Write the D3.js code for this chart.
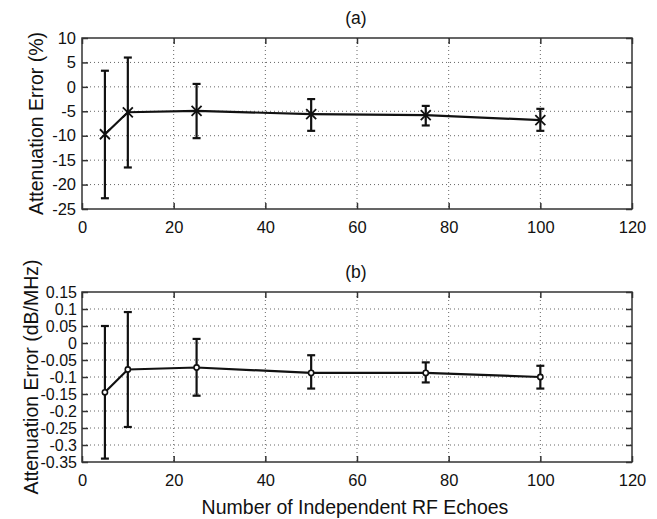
<!DOCTYPE html>
<html>
<head>
<meta charset="utf-8">
<script src="https://cdn.jsdelivr.net/npm/d3@7"></script>
<style>
  body { margin: 0; background: #fff; }
  text { font-family: "Liberation Sans", Arial, sans-serif; fill: #111; }
</style>
</head>
<body>
<svg id="chart" width="657" height="519"></svg>
<script>
// number of independent RF echoes
const echoes = [5, 10, 25, 50, 75, 100];

// panel (a): attenuation error in %
const errPct = [-9.7, -5.2, -4.9, -5.6, -5.8, -6.8];
const errPctLow = [-22.8, -16.5, -10.5, -9.0, -7.9, -9.0];
const errPctHigh = [3.3, 6.0, 0.6, -2.5, -3.9, -4.5];
const pctTicks = [10, 5, 0, -5, -10, -15, -20, -25];

// panel (b): attenuation error in dB/MHz
const errDb = [-0.145, -0.078, -0.072, -0.088, -0.088, -0.100];
const errDbLow = [-0.340, -0.247, -0.155, -0.134, -0.116, -0.134];
const errDbHigh = [0.050, 0.091, 0.012, -0.036, -0.057, -0.067];
const dbTicks = [0.15, 0.1, 0.05, 0, -0.05, -0.1, -0.15, -0.2, -0.25, -0.3, -0.35];

const xTicks = [0, 20, 40, 60, 80, 100, 120];

var svg = d3.select('#chart');
var left = 82, right = 632;
var font = '"Liberation Sans", Arial, sans-serif';

var x = d3.scaleLinear().domain([0, 120]).range([left, right]);

function drawPanel(opt) {
  var y = d3.scaleLinear().domain(opt.domain).range([opt.bottom, opt.top]);
  var g = svg.append('g');

  // dotted grid
  g.selectAll('.vgrid').data(xTicks.slice(1, -1)).enter().append('line')
    .attr('x1', d => x(d)).attr('x2', d => x(d))
    .attr('y1', opt.top).attr('y2', opt.bottom)
    .attr('stroke', '#666').attr('stroke-width', 1).attr('stroke-dasharray', '1,3');
  g.selectAll('.hgrid').data(opt.ticks.slice(1, -1)).enter().append('line')
    .attr('y1', d => y(d)).attr('y2', d => y(d))
    .attr('x1', left).attr('x2', right)
    .attr('stroke', '#666').attr('stroke-width', 1).attr('stroke-dasharray', '1,3');

  // axes with inward ticks
  var yAxis = d3.axisLeft(y).tickValues(opt.ticks).tickSize(-6).tickPadding(opt.yPad)
    .tickFormat(d => String(+d.toFixed(2)));
  var yAx = g.append('g').attr('transform', 'translate(' + left + ',0)').call(yAxis);
  var yAxR = g.append('g').attr('transform', 'translate(' + right + ',0)')
    .call(d3.axisRight(y).tickValues(opt.ticks).tickSize(-6).tickFormat(''));
  var xAx = g.append('g').attr('transform', 'translate(0,' + opt.bottom + ')')
    .call(d3.axisBottom(x).tickValues(xTicks).tickSize(-6).tickPadding(12));
  var xAxT = g.append('g').attr('transform', 'translate(0,' + opt.top + ')')
    .call(d3.axisTop(x).tickValues(xTicks).tickSize(-6).tickFormat(''));
  [yAx, yAxR, xAx, xAxT].forEach(function(a) {
    a.select('.domain').remove();
    a.selectAll('line').attr('stroke', '#333').attr('stroke-width', 1.5);
    a.selectAll('text').attr('font-size', 16.5).attr('fill', '#111')
      .attr('font-family', font);
  });
  yAx.selectAll('text').attr('font-size', opt.yTickSize);
  g.append('rect').attr('x', left).attr('y', opt.top)
    .attr('width', right - left).attr('height', opt.bottom - opt.top)
    .attr('fill', 'none').attr('stroke', '#333').attr('stroke-width', 1.5);

  // error bars
  var eb = g.selectAll('.eb').data(echoes).enter().append('g');
  eb.append('line')
    .attr('x1', d => x(d)).attr('x2', d => x(d))
    .attr('y1', (d, i) => y(opt.low[i])).attr('y2', (d, i) => y(opt.high[i]))
    .attr('stroke', '#111').attr('stroke-width', 2.2);
  eb.append('line')
    .attr('x1', d => x(d) - 4).attr('x2', d => x(d) + 4)
    .attr('y1', (d, i) => y(opt.low[i])).attr('y2', (d, i) => y(opt.low[i]))
    .attr('stroke', '#111').attr('stroke-width', 2.2);
  eb.append('line')
    .attr('x1', d => x(d) - 4).attr('x2', d => x(d) + 4)
    .attr('y1', (d, i) => y(opt.high[i])).attr('y2', (d, i) => y(opt.high[i]))
    .attr('stroke', '#111').attr('stroke-width', 2.2);

  // mean line
  var line = d3.line().x(d => x(d[0])).y(d => y(d[1]));
  g.append('path').datum(echoes.map((d, i) => [d, opt.mean[i]]))
    .attr('d', line).attr('fill', 'none').attr('stroke', '#111').attr('stroke-width', 2.2);

  // markers
  var mk = g.selectAll('.mk').data(echoes).enter().append('g')
    .attr('transform', (d, i) => 'translate(' + x(d) + ',' + y(opt.mean[i]) + ')');
  if (opt.marker === 'x') {
    mk.append('path').attr('d', 'M-5,-5L5,5M-5,5L5,-5')
      .attr('stroke', '#111').attr('stroke-width', 1.8);
  } else {
    mk.append('circle').attr('r', 2.6).attr('fill', '#fff')
      .attr('stroke', '#111').attr('stroke-width', 1.6);
  }

  // panel title
  svg.append('text').attr('x', 356).attr('y', opt.top - 14)
    .attr('text-anchor', 'middle').attr('font-size', 17.5).text(opt.title);

  // y label
  svg.append('text')
    .attr('transform', 'translate(' + opt.labelX + ',' + ((opt.top + opt.bottom) / 2) + ') rotate(-90)')
    .attr('text-anchor', 'middle').attr('font-size', 19.5).text(opt.ylabel);
}

drawPanel({
  top: 38, bottom: 209, domain: [-25, 10], ticks: pctTicks,
  mean: errPct, low: errPctLow, high: errPctHigh, yTickSize: 16.5, yPad: 6, labelX: 43,
  marker: 'x', title: '(a)', ylabel: 'Attenuation Error (%)'
});

drawPanel({
  top: 292, bottom: 462, domain: [-0.35, 0.15], ticks: dbTicks,
  mean: errDb, low: errDbLow, high: errDbHigh, yTickSize: 16, yPad: 5, labelX: 38,
  marker: 'o', title: '(b)', ylabel: 'Attenuation Error (dB/MHz)'
});

svg.append('text').attr('x', 355).attr('y', 514)
  .attr('text-anchor', 'middle').attr('font-size', 19.5)
  .text('Number of Independent RF Echoes');
</script>
</body>
</html>
